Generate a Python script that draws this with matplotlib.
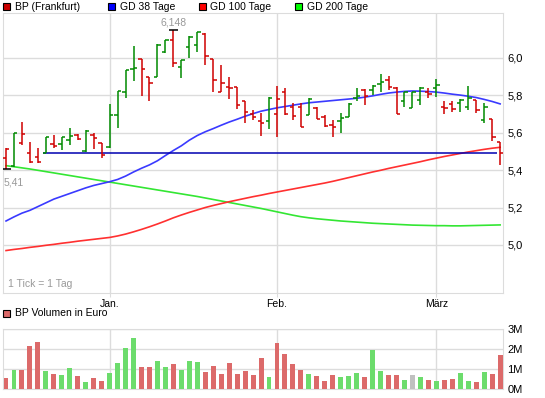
"""
BP (Frankfurt) – Kurs mit GD 38/100/200 und Volumen, 3 Monate.
"""
import matplotlib
matplotlib.use("Agg")
import matplotlib.pyplot as plt
import numpy as np

plt.rcParams.update({
    "font.family": ["Liberation Sans", "DejaVu Sans"],
    "font.size": 7.5,
})

# --------------------------- Daten ---------------------------
opens = [5.463, 5.424, 5.547, 5.494, 5.469, 5.494, 5.538, 5.537, 5.560, 5.588,
         5.503, 5.590, 5.544, 5.526, 5.692, 5.820, 5.939, 5.993, 5.897, 5.897,
         6.032, 6.096, 5.950, 6.057, 6.070, 6.128, 5.993, 5.820, 5.847, 5.847,
         5.767, 5.699, 5.660, 5.665, 5.699, 5.820, 5.736, 5.736, 5.692, 5.731,
         5.686, 5.641, 5.660, 5.686, 5.784, 5.829, 5.829, 5.861, 5.882, 5.838,
         5.767, 5.731, 5.775, 5.820, 5.838, 5.736, 5.754, 5.758, 5.736, 5.775,
         5.668, 5.672, 5.549]
highs = [5.520, 5.601, 5.658, 5.551, 5.520, 5.576, 5.588, 5.579, 5.624, 5.594,
         5.615, 5.597, 5.547, 5.754, 5.825, 5.936, 6.061, 5.993, 5.897, 6.075,
         6.096, 6.148, 5.989, 6.119, 6.137, 6.132, 5.993, 5.963, 5.900, 5.847,
         5.767, 5.722, 5.708, 5.793, 5.850, 5.838, 5.758, 5.758, 5.784, 5.736,
         5.692, 5.668, 5.704, 5.758, 5.838, 5.832, 5.856, 5.914, 5.904, 5.847,
         5.820, 5.820, 5.847, 5.838, 5.886, 5.767, 5.767, 5.779, 5.850, 5.775,
         5.761, 5.672, 5.549]
lows = [5.406, 5.419, 5.535, 5.437, 5.437, 5.490, 5.520, 5.508, 5.535, 5.561,
        5.499, 5.512, 5.463, 5.517, 5.624, 5.784, 5.879, 5.797, 5.772, 5.897,
        6.025, 5.950, 5.891, 5.998, 6.034, 5.963, 5.815, 5.816, 5.781, 5.726,
        5.651, 5.668, 5.583, 5.619, 5.579, 5.695, 5.668, 5.629, 5.692, 5.672,
        5.633, 5.576, 5.597, 5.683, 5.767, 5.749, 5.802, 5.820, 5.829, 5.699,
        5.736, 5.731, 5.749, 5.784, 5.793, 5.699, 5.713, 5.713, 5.722, 5.704,
        5.651, 5.553, 5.425]
closes = [5.512, 5.597, 5.594, 5.446, 5.442, 5.576, 5.531, 5.576, 5.585, 5.567,
          5.611, 5.570, 5.481, 5.692, 5.825, 5.936, 5.948, 5.939, 5.868, 6.070,
          6.093, 5.975, 5.989, 6.114, 6.137, 6.011, 5.882, 5.865, 5.838, 5.749,
          5.713, 5.686, 5.651, 5.784, 5.780, 5.699, 5.690, 5.629, 5.779, 5.672,
          5.636, 5.633, 5.677, 5.754, 5.797, 5.794, 5.852, 5.872, 5.843, 5.699,
          5.815, 5.815, 5.838, 5.807, 5.856, 5.731, 5.726, 5.775, 5.784, 5.722,
          5.736, 5.576, 5.490]
prev_close = 5.53

gd38 = [5.128, 5.150, 5.170, 5.185, 5.205, 5.225, 5.245, 5.260, 5.275, 5.290,
        5.305, 5.318, 5.328, 5.338, 5.350, 5.368, 5.390, 5.410, 5.428, 5.450,
        5.478, 5.505, 5.530, 5.560, 5.585, 5.605, 5.622, 5.640, 5.657, 5.672,
        5.688, 5.702, 5.715, 5.724, 5.733, 5.740, 5.747, 5.754, 5.760, 5.764,
        5.768, 5.772, 5.776, 5.780, 5.784, 5.790, 5.797, 5.805, 5.812, 5.817,
        5.821, 5.823, 5.822, 5.820, 5.817, 5.812, 5.806, 5.801, 5.795, 5.788,
        5.778, 5.767, 5.754]
gd100 = [4.970, 4.976, 4.981, 4.987, 4.992, 4.998, 5.003, 5.009, 5.014, 5.020,
         5.025, 5.030, 5.035, 5.040, 5.048, 5.058, 5.070, 5.083, 5.097, 5.112,
         5.128, 5.145, 5.160, 5.174, 5.187, 5.200, 5.211, 5.221, 5.231, 5.240,
         5.249, 5.258, 5.266, 5.275, 5.283, 5.291, 5.299, 5.307, 5.315, 5.323,
         5.331, 5.340, 5.350, 5.360, 5.370, 5.380, 5.390, 5.399, 5.409, 5.418,
         5.427, 5.436, 5.445, 5.455, 5.464, 5.473, 5.481, 5.489, 5.497, 5.504,
         5.511, 5.517, 5.522]
gd200 = [5.424, 5.418, 5.412, 5.406, 5.399, 5.392, 5.385, 5.378, 5.371, 5.364,
         5.357, 5.350, 5.343, 5.336, 5.329, 5.322, 5.315, 5.308, 5.301, 5.294,
         5.287, 5.280, 5.273, 5.266, 5.259, 5.251, 5.243, 5.235, 5.227, 5.219,
         5.211, 5.203, 5.195, 5.186, 5.177, 5.168, 5.159, 5.151, 5.145, 5.140,
         5.136, 5.132, 5.128, 5.125, 5.122, 5.119, 5.116, 5.114, 5.112, 5.110,
         5.108, 5.106, 5.105, 5.104, 5.103, 5.103, 5.102, 5.102, 5.103, 5.104,
         5.105, 5.106, 5.107]

volume_mio = [0.57, 0.95, 0.95, 2.15, 2.35, 0.90, 0.75, 0.70, 1.05, 0.65,
              0.35, 0.55, 0.40, 0.80, 1.30, 2.05, 2.55, 1.10, 1.10, 1.40,
              1.10, 1.25, 0.95, 1.40, 1.35, 0.85, 1.15, 0.75, 1.30, 0.75,
              0.90, 0.70, 1.55, 0.60, 2.30, 1.75, 1.25, 0.95, 0.75, 0.65,
              0.40, 0.70, 0.60, 0.65, 0.80, 0.60, 1.95, 0.90, 0.70, 0.70,
              0.45, 0.70, 0.60, 0.45, 0.40, 0.45, 0.50, 0.80, 0.40, 0.35,
              0.85, 0.75, 1.70]

month_pos = [13, 34, 54]
month_labels = ["Jan.", "Feb.", "März"]
support_level = 5.49
support_from, support_to = 4.6, 61.6
price_ticks = [5.0, 5.2, 5.4, 5.6, 5.8, 6.0]
vol_ticks = [0, 1, 2, 3]

# --------------------------- Farben ---------------------------
GRID = "#dcdcdc"
UP, DOWN = "#008a00", "#d00000"
VUP, VDOWN, VFLAT = "#6cdc6c", "#dc6a6a", "#c0c0c0"

days = np.arange(len(closes))
closes_a = np.array(closes)
prev = np.concatenate([[prev_close], closes_a[:-1]])
bar_col = [UP if c >= p else DOWN for c, p in zip(closes_a, prev)]
vol_col = [VUP if c > p else VDOWN if c < p else VFLAT
           for c, p in zip(closes_a, prev)]

W, H = 545, 398
fig = plt.figure(figsize=(W / 100, H / 100), dpi=100)
ax = fig.add_axes([3 / W, (H - 293) / H, 500 / W, 280 / H])
axv = fig.add_axes([3 / W, (H - 389) / H, 500 / W, 60 / H])

xlim = (-0.38, 62.36)

# --------------------------- Kurs ---------------------------
ax.plot(days, gd200, color="#33e633", lw=1.2, zorder=2)
ax.plot(days, gd100, color="#ff3030", lw=1.2, zorder=2)
ax.plot(days, gd38, color="#3a3aff", lw=1.2, zorder=2)
ax.hlines(support_level, support_from, support_to, color="#0000b0", lw=1.1, zorder=3)

ax.vlines(days, lows, highs, colors=bar_col, lw=1.1, zorder=4)
ax.hlines(opens, days - 0.42, days, colors=bar_col, lw=1.1, zorder=4)
ax.hlines(closes, days, days + 0.42, colors=bar_col, lw=1.1, zorder=4)

# Hoch / Tief markieren
i_hi = int(np.argmax(highs))
i_lo = int(np.argmin(lows))
ax.hlines(highs[i_hi], i_hi - 0.6, i_hi + 0.6, color="black", lw=1.1, zorder=5)
ax.hlines(lows[i_lo], i_lo - 0.6, i_lo + 0.6, color="black", lw=1.1, zorder=5)
ax.annotate(f"{highs[i_hi]:.3f}".replace(".", ","), (i_hi, highs[i_hi]),
            xytext=(0, 2), textcoords="offset points", ha="center", va="bottom",
            color="#999999", fontsize=7.5)
ax.annotate(f"{lows[i_lo]:.2f}".replace(".", ","), (i_lo, lows[i_lo]),
            xytext=(-2, -6), textcoords="offset points", ha="left", va="top",
            color="#999999", fontsize=7.5)
ax.text(0.01, 0.015, "1 Tick = 1 Tag", transform=ax.transAxes,
        color="#999999", fontsize=7.5, ha="left", va="bottom")

ax.set_xlim(*xlim)
ax.set_ylim(4.743, 6.24)
ax.set_yticks(price_ticks)
ax.set_yticklabels([f"{t:.1f}".replace(".", ",") for t in price_ticks])
ax.yaxis.tick_right()
ax.set_xticks(month_pos)
ax.set_xticklabels(month_labels)
ax.tick_params(axis="y", length=0, pad=3, labelsize=8)
ax.tick_params(axis="x", length=3, color=GRID, pad=1, labelsize=7.5)
ax.grid(True, color=GRID, lw=1)
ax.set_axisbelow(True)
for s in ax.spines.values():
    s.set_color(GRID)

# --------------------------- Legende oben ---------------------------
legend_items = [("BP (Frankfurt)", "#cc0000", 3),
                ("GD 38 Tage", "#0000ff", 107.5),
                ("GD 100 Tage", "#ff0000", 198.5),
                ("GD 200 Tage", "#00ff00", 295)]
for label, col, x0 in legend_items:
    fig.patches.append(plt.Rectangle((x0 / W, (H - 10) / H), 7 / W, 7 / H,
                                     transform=fig.transFigure, facecolor=col,
                                     edgecolor="black", lw=0.8))
    fig.text((x0 + 12) / W, (H - 6.5) / H, label, fontsize=7.5,
             ha="left", va="center")

# --------------------------- Volumen ---------------------------
axv.bar(days, volume_mio, width=0.62, color=vol_col, zorder=3)
axv.set_xlim(*xlim)
axv.set_ylim(0, 3)
axv.set_yticks(vol_ticks)
axv.set_yticklabels([f"{t}M" for t in vol_ticks])
axv.yaxis.tick_right()
axv.set_xticks(month_pos)
axv.set_xticklabels([])
axv.tick_params(axis="y", length=0, pad=3, labelsize=8)
axv.tick_params(axis="x", length=0)
axv.grid(True, color=GRID, lw=1)
axv.set_axisbelow(True)
for s in axv.spines.values():
    s.set_color(GRID)

fig.patches.append(plt.Rectangle((3 / W, (H - 317) / H), 7 / W, 7 / H,
                                 transform=fig.transFigure, facecolor="#dc6a6a",
                                 edgecolor="black", lw=0.8))
fig.text(15 / W, (H - 313.5) / H, "BP Volumen in Euro", fontsize=7.5,
         ha="left", va="center")

fig.savefig("out.png", dpi=100)
